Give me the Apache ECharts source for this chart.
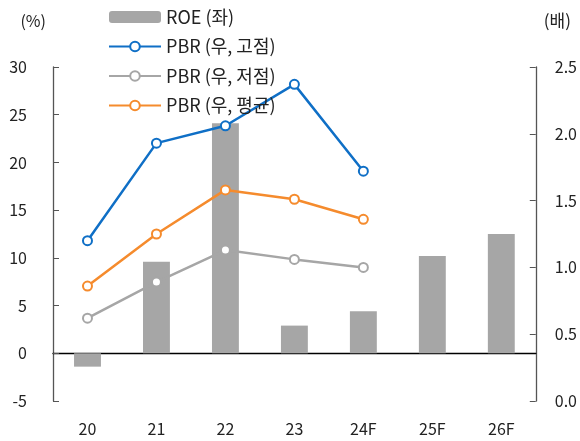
<!DOCTYPE html>
<html>
<head>
<meta charset="utf-8">
<script src="https://cdn.jsdelivr.net/npm/echarts@6/dist/echarts.min.js"></script>
<style>
    html, body { margin: 0; padding: 0; background: #fff; }
    #chart { width: 580px; height: 441px; }
</style>
</head>
<body>
<div id="chart"></div>
<script>
var categories = ['20', '21', '22', '23', '24F', '25F', '26F'];
var roe = [-1.4, 9.6, 24.1, 2.9, 4.4, 10.2, 12.5];
var pbrHigh = [1.20, 1.93, 2.06, 2.37, 1.72];
var pbrLow = [0.62, 0.89, 1.13, 1.06, 1.00];
var pbrAvg = [0.86, 1.25, 1.58, 1.51, 1.36];

var font = "'Noto Sans CJK KR', 'Noto Sans', sans-serif";
var txt = '#222';

function lineSeries(name, data, color) {
    return {
        name: name,
        type: 'line',
        yAxisIndex: 1,
        data: data,
        symbol: 'emptyCircle',
        symbolSize: 9,
        z: 3,
        lineStyle: {color: color, width: 2.5},
        itemStyle: {color: color, borderColor: color, borderWidth: 2.5}
    };
}

var myChart = echarts.init(document.getElementById('chart'));
var option = {
    animation: false,
    textStyle: {fontFamily: font},
    grid: {left: 53, right: 40, top: 67, bottom: 40},
    legend: {
        orient: 'vertical',
        left: 103,
        top: 3,
        itemWidth: 52,
        itemHeight: 12,
        itemGap: 11.5,
        textStyle: {fontSize: 18, color: txt, fontFamily: font},
        data: ['ROE (좌)', 'PBR (우, 고점)', 'PBR (우, 저점)', 'PBR (우, 평균)']
    },
    xAxis: [
        {
            type: 'category',
            data: categories,
            axisLine: {onZero: true, onZeroAxisIndex: 0, lineStyle: {color: '#000', width: 1.3}},
            axisTick: {inside: true, length: 6, lineStyle: {color: '#000'}},
            axisLabel: {show: false}
        },
        {
            type: 'category',
            position: 'bottom',
            data: categories,
            axisLine: {show: false, onZero: false},
            axisTick: {show: false},
            axisLabel: {margin: 20, fontSize: 16, color: txt, fontFamily: font}
        }
    ],
    yAxis: [
        {
            type: 'value',
            min: -5,
            max: 30,
            interval: 5,
            name: '(%)',
            nameLocation: 'end',
            nameGap: 38,
            nameTextStyle: {align: 'right', padding: [0, 7, 0, 0], fontSize: 16, color: txt, fontFamily: font},
            splitLine: {show: false},
            axisLine: {show: true, lineStyle: {color: '#555', width: 1.3}},
            axisTick: {show: true, inside: true, length: 6, lineStyle: {color: '#555'}},
            axisLabel: {margin: 26, fontSize: 16, color: txt, fontFamily: font}
        },
        {
            type: 'value',
            min: 0,
            max: 2.5,
            interval: 0.5,
            name: '(배)',
            nameLocation: 'end',
            nameGap: 38,
            nameTextStyle: {align: 'left', padding: [0, 0, 0, 8], fontSize: 17, color: txt, fontFamily: font},
            splitLine: {show: false},
            axisLine: {show: true, lineStyle: {color: '#555', width: 1.3}},
            axisTick: {show: true, inside: true, length: 6, lineStyle: {color: '#555'}},
            axisLabel: {margin: 19, fontSize: 16, color: txt, fontFamily: font,
                formatter: function (v) { return v.toFixed(1); }}
        }
    ],
    series: [
        {
            name: 'ROE (좌)',
            type: 'bar',
            data: roe,
            barWidth: '39%',
            z: 2,
            itemStyle: {color: '#a6a6a6'}
        },
        lineSeries('PBR (우, 고점)', pbrHigh, '#0f6fc6'),
        lineSeries('PBR (우, 저점)', pbrLow, '#a6a6a6'),
        lineSeries('PBR (우, 평균)', pbrAvg, '#f58b2d')
    ]
};
myChart.setOption(option);
</script>
</body>
</html>
